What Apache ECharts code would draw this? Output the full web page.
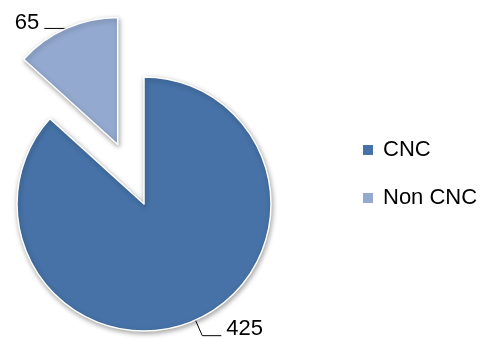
<!DOCTYPE html>
<html>
<head>
<meta charset="utf-8">
<script src="https://cdn.jsdelivr.net/npm/echarts@6/dist/echarts.min.js"></script>
<style>
  html, body { margin: 0; padding: 0; background: #ffffff; }
  #chart { width: 485px; height: 339px; }
</style>
</head>
<body>
<div id="chart"></div>
<script>
// Machine counts by type
const categories = ['CNC', 'Non CNC'];
const counts = [425, 65];
const colors = ['#4672A7', '#93A9CF'];
// Slice pulled out from the pie
const explodedCategory = 'Non CNC';

const FONT = '"Liberation Sans", Arial, sans-serif';

// Per-slice leader line shape
const leaderLines = {
  'CNC': { length: 17, length2: 19 },
  'Non CNC': { length: 0, length2: 22 }
};
// The value text sits above the end of its leader line: an empty second
// line of this height lifts the text by half of it
const liftLineHeights = {
  'CNC': 14,
  'Non CNC': 11
};

const data = categories.map((name, i) => ({
  name: name,
  value: counts[i],
  selected: name === explodedCategory,
  itemStyle: { color: colors[i] },
  labelLine: leaderLines[name],
  label: { lineHeight: liftLineHeights[name] }
}));

const chart = echarts.init(document.getElementById('chart'), null, { renderer: 'canvas' });
chart.setOption({
  animation: false,
  backgroundColor: '#ffffff',
  legend: {
    orient: 'vertical',
    left: 361,
    top: 139,
    padding: 0,
    itemWidth: 12,
    itemHeight: 12,
    itemGap: 26,
    icon: 'rect',
    selectedMode: false,
    data: categories,
    textStyle: {
      fontFamily: FONT,
      fontSize: 22,
      color: '#000000',
      padding: [0, 0, 0, 4]
    }
  },
  series: [{
    type: 'pie',
    center: [144, 204],
    radius: 127,
    startAngle: 90,
    clockwise: true,
    selectedMode: 'single',
    selectedOffset: 65,
    avoidLabelOverlap: false,
    data: data,
    itemStyle: {
      borderColor: '#ffffff',
      borderWidth: 1.5,
      shadowBlur: 5,
      shadowOffsetX: 1,
      shadowOffsetY: 2,
      shadowColor: 'rgba(0,0,0,0.35)'
    },
    select: { itemStyle: { borderColor: '#ffffff', borderWidth: 1.5 } },
    emphasis: { disabled: true },
    label: {
      show: true,
      position: 'outside',
      formatter: '{c}\n ',
      fontFamily: FONT,
      fontSize: 22,
      color: '#000000',
      distanceToLabelLine: 5
    },
    labelLine: {
      show: true,
      smooth: false,
      lineStyle: { color: '#000000', width: 1 }
    }
  }]
});
</script>
</body>
</html>
